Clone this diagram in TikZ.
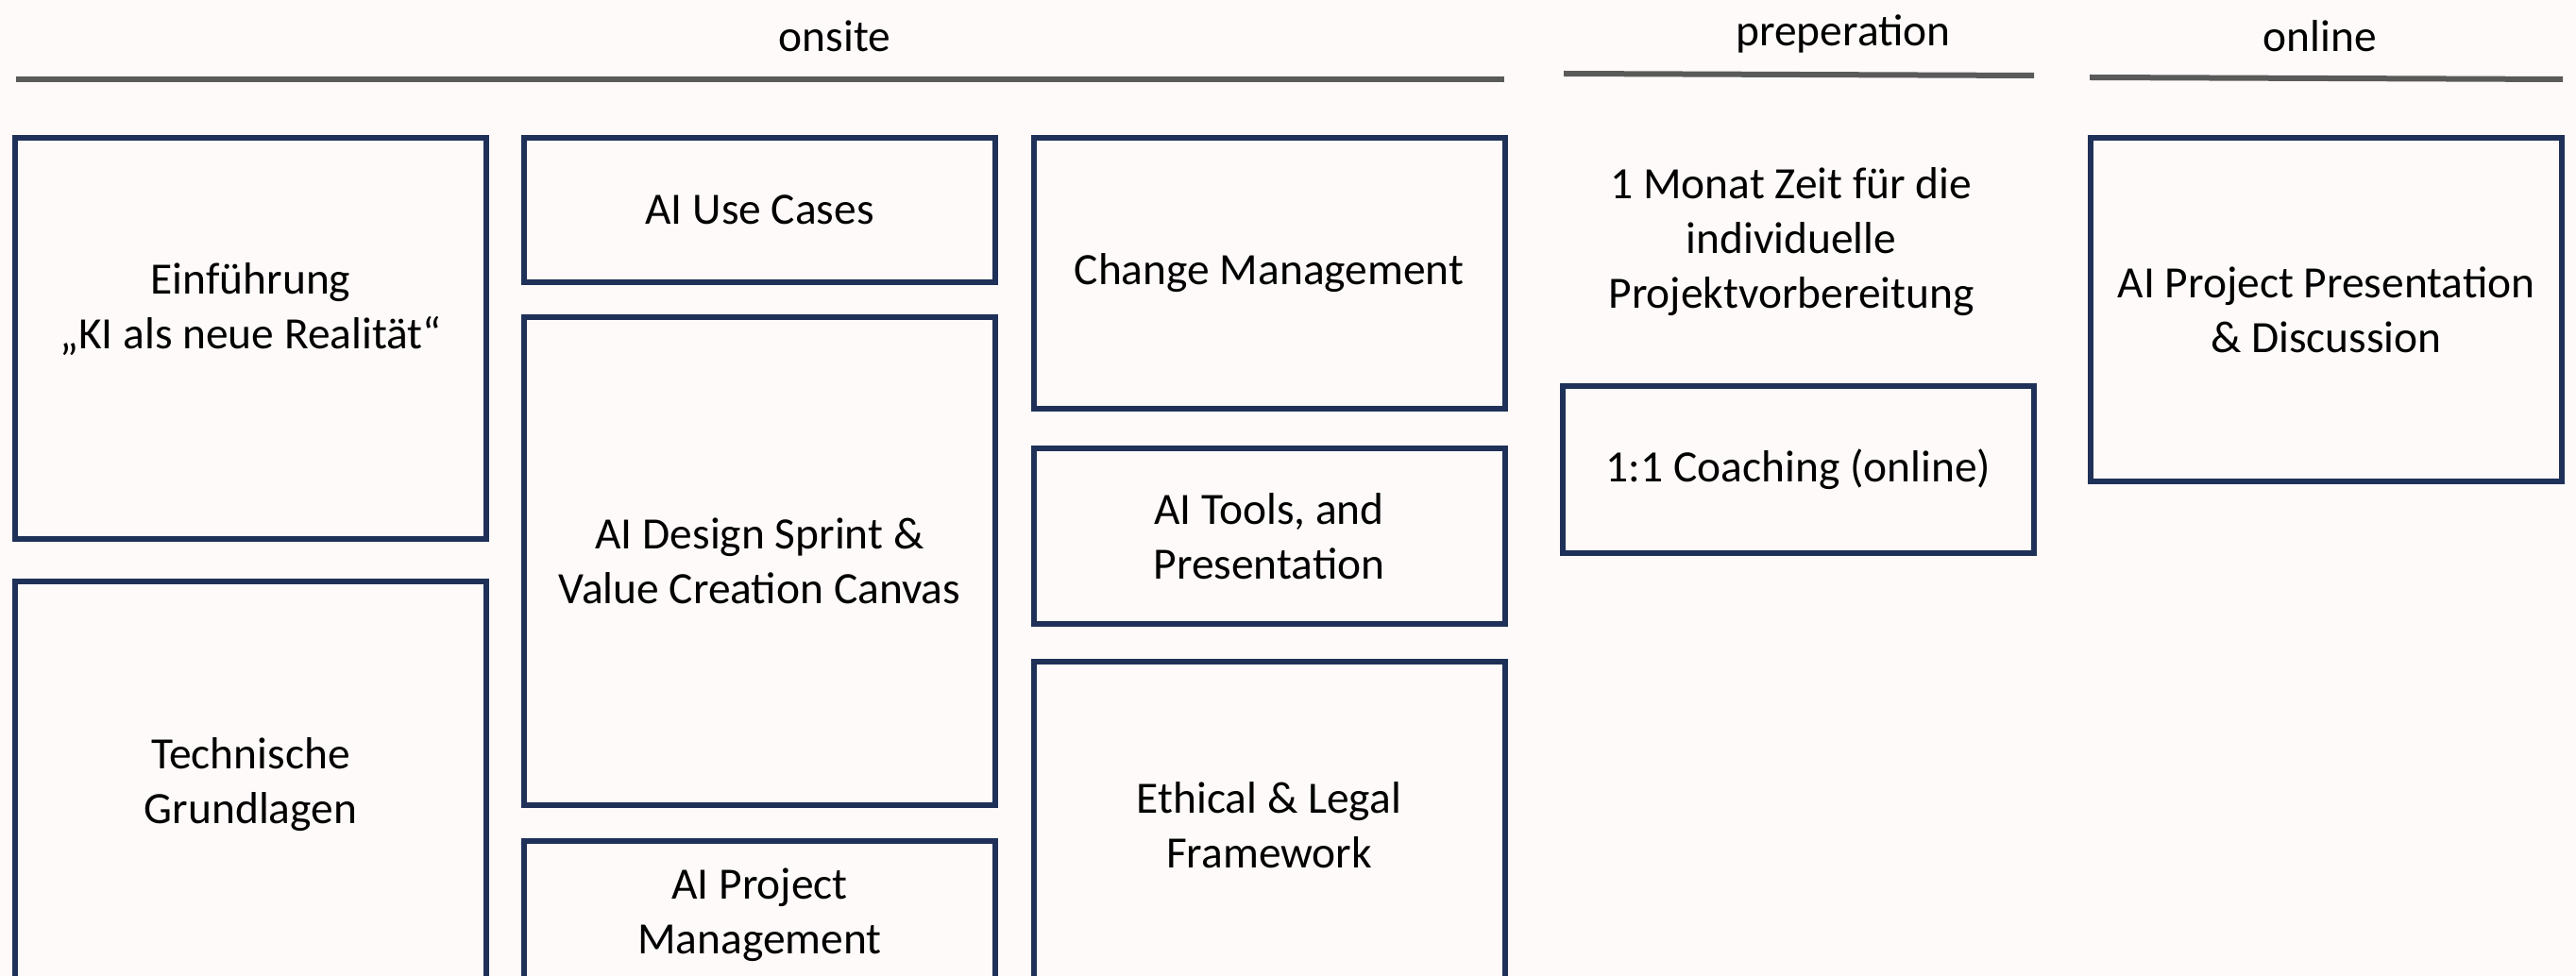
\documentclass[tikz,border=0pt]{standalone}
\usepackage{fontspec}
\setmainfont{Carlito}
\usetikzlibrary{positioning}
\definecolor{navy}{HTML}{1F3158}
\definecolor{rulegray}{HTML}{5A5A5A}
\definecolor{paper}{HTML}{FDFAF9}
\tikzset{
	box/.style={draw=navy, line width=0.06cm, minimum width=4.99cm, inner sep=0pt, align=center, font=\fontsize{13.5}{16.5}\selectfont},
	lbl/.style={align=center, font=\fontsize{13.5}{16.5}\selectfont},
	rulebar/.style={draw=rulegray, line width=0.06cm}
}
\begin{document}
\begin{tikzpicture}[y=-1cm]
			\fill[paper] (0,0) rectangle (27.28,10.34);
			\useasboundingbox (0,0) rectangle (27.28,10.34);
			\clip (0,0) rectangle (27.28,10.34);
			
			\node[lbl] (onsite) at (8.84,.38) {onsite}; \draw[rulebar] (.17,.84) -- (15.93,.84);
			\node[lbl] (prep) at (19.52,.36) {preperation}; \draw[rulebar] (16.56,.78) -- (21.54,.80);
			\node[lbl] (online) at (24.57,.38) {online}; \draw[rulebar] (22.13,.82) -- (27.14,.84);
			
			\node[box, minimum height=4.25cm] (intro) at (2.655,3.585) {};
			\node[lbl] (introtxt) at (2.655,3.28) {Einführung\\„KI als neue Realität“};
			\node[box, minimum height=4.31cm] (tech) at (2.655,8.315) {Technische\\Grundlagen};
			
			\node[box, minimum height=1.53cm] (usecases) at (8.045,2.225) {AI Use Cases};
			\node[box, minimum height=5.17cm] (sprint) at (8.045,5.945) {AI Design Sprint \&\\Value Creation Canvas};
			\node[box, minimum height=1.56cm] (pm) at (8.045,9.69) {AI Project\\Management};
			
			\node[box, minimum height=2.87cm] (change) at (13.44,2.895) {Change Management};
			\node[box, minimum height=1.86cm] (tools) at (13.44,5.68) {AI Tools, and\\Presentation};
			\node[box, minimum height=3.46cm] (ethics) at (13.44,8.74) {Ethical \& Legal\\Framework};
			
			\node[lbl] (month) at (18.97,2.56) {1 Monat Zeit für die\\individuelle\\Projektvorbereitung};
			\node[box, minimum height=1.77cm] (coaching) at (19.045,4.975) {1:1 Coaching (online)};
			
			\node[box, minimum height=3.64cm] (present) at (24.635,3.28) {AI Project Presentation\\\& Discussion};
\end{tikzpicture}
\end{document}
